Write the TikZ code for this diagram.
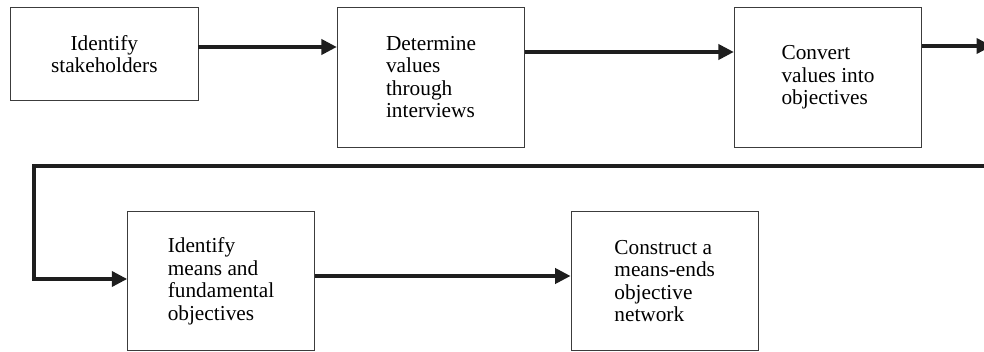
\documentclass[tikz,border=0pt]{standalone}
\usepackage{fontspec}
\setmainfont{Liberation Serif}
\usetikzlibrary{arrows.meta}
\definecolor{boxgray}{HTML}{3C3C3C}
\definecolor{linedark}{HTML}{1E1E1E}
\begin{document}
\begin{tikzpicture}[x=1pt,y=-1pt,
  stepbox/.style={draw=boxgray, line width=0.9pt, inner sep=0pt,
    font=\fontsize{21.3}{22.5}\selectfont, text=black},
  flow/.style={draw=linedark, line width=3.8pt,
    -{Triangle[length=15.5pt,width=15pt]}},
]
\useasboundingbox (0,0) rectangle (984,352);
\clip (0,0) rectangle (984,352);

% process steps
\node[stepbox, align=center, minimum width=187.3pt, minimum height=93.4pt]
  (b1) at (104.3,54) {Identify\\stakeholders};
\node[stepbox, align=left, minimum width=187.4pt, minimum height=140pt]
  (b2) at (431,77.3) {Determine\\values\\through\\interviews};
\node[stepbox, align=left, minimum width=187.4pt, minimum height=140pt]
  (b3) at (828,77.3) {Convert\\values into\\objectives};
\node[stepbox, align=left, minimum width=186.6pt, minimum height=138.8pt]
  (b4) at (221,281.1) {Identify\\means and\\fundamental\\objectives};
\node[stepbox, align=left, minimum width=187.3pt, minimum height=138.8pt]
  (b5) at (664.7,281.1) {Construct a\\means-ends\\objective\\network};

% free ends at the right margin and the return bend
\coordinate (exit) at (992,46);
\coordinate (reentry) at (990,166);
\coordinate (bend) at (34,166);

% connectors
\draw[flow] (b1.east |- 0,47) -- (b2.west |- 0,47);
\draw[flow] (b2.east |- 0,52) -- (b3.west |- 0,52);
\draw[flow] (b3.east |- 0,46) -- (exit);
\draw[flow] (reentry) -- (bend) |- (b4.west |- 0,279);
\draw[flow] (b4.east |- 0,276) -- (b5.west |- 0,276);
\end{tikzpicture}
\end{document}
